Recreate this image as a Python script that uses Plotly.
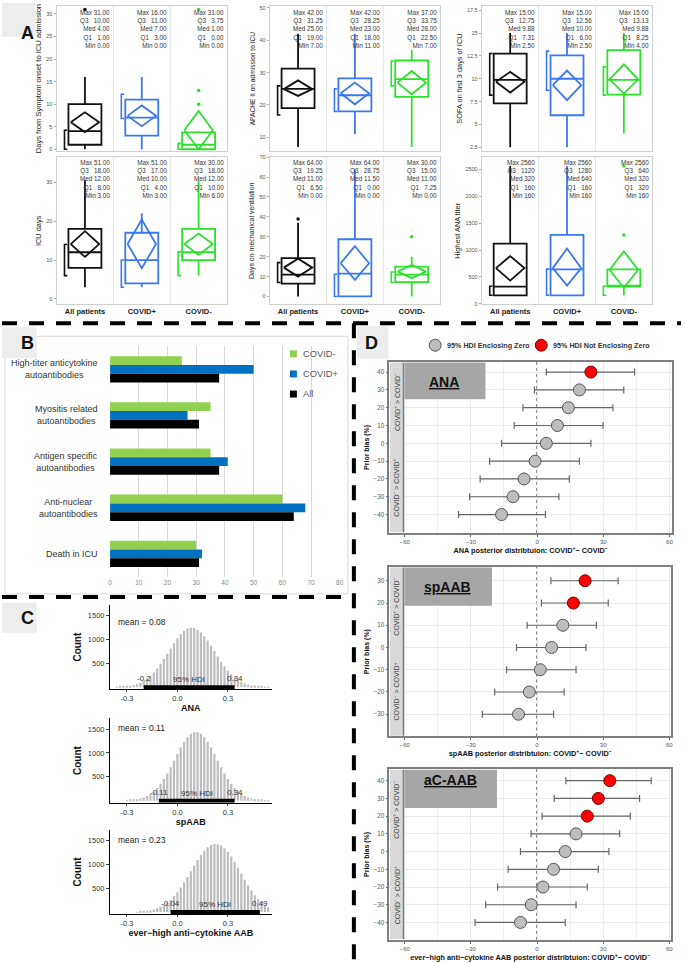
import plotly.graph_objects as go

W, H = 685, 963
FONT = "Liberation Sans"

# ---------------- Panel A data ----------------
groups = ["All patients", "COVID+", "COVID-"]
group_colors = ["#111111", "#3A78F2", "#2CE02C"]

a1_ytitle = "Days from Symptom onset to ICU admission"
a1_q1 = [1, 3, 0]
a1_med = [4, 7, 1]
a1_q3 = [10, 11, 3.75]
a1_wlo = [0, 0, 0]
a1_whi = [16, 16, 4]
a1_mean = [6.0, 7.4, 4.2]
a1_ci_lo = [3.8, 5.1, 0.0]
a1_ci_hi = [8.2, 9.7, 8.5]
a1_sh_lo = [0, 6.8, 0]
a1_sh_hi = [4.2, 12.2, 1.3]
a1_out_g = [0, 2, 2, 2]
a1_out_v = [31, 10, 13, 31]
a1_s_max = ["31.00", "16.00", "31.00"]
a1_s_q3 = ["10.00", "11.00", "3.75"]
a1_s_med = ["4.00", "7.00", "1.00"]
a1_s_q1 = ["1.00", "3.00", "0.00"]
a1_s_min = ["0.00", "0.00", "0.00"]

a2_ytitle = "APACHE II on admission to ICU"
a2_q1 = [19, 18, 22.5]
a2_med = [25, 23, 28]
a2_q3 = [31.25, 28.25, 33.75]
a2_wlo = [7, 11, 7]
a2_whi = [42, 42, 37]
a2_mean = [24.9, 23.6, 26.9]
a2_ci_lo = [22.8, 20.2, 23.3]
a2_ci_hi = [27.6, 26.9, 30.5]
a2_sh_lo = [16.9, 18, 25.9]
a2_sh_hi = [25.9, 25, 33.6]
a2_out_g = []
a2_out_v = []
a2_s_max = ["42.00", "42.00", "37.00"]
a2_s_q3 = ["31.25", "28.25", "33.75"]
a2_s_med = ["25.00", "23.00", "28.00"]
a2_s_q1 = ["19.00", "18.00", "22.50"]
a2_s_min = ["7.00", "11.00", "7.00"]

a3_ytitle = "SOFA on first 3 days of ICU"
a3_q1 = [7.31, 6, 8.25]
a3_med = [9.88, 10, 9.88]
a3_q3 = [12.75, 12.56, 13.13]
a3_wlo = [2.5, 2.5, 4]
a3_whi = [15, 15, 15]
a3_mean = [9.66, 9.29, 9.94]
a3_ci_lo = [8.49, 7.65, 8.38]
a3_ci_hi = [10.75, 10.9, 11.57]
a3_sh_lo = [8.2, 8.74, 8.2]
a3_sh_hi = [12.77, 13.03, 11.3]
a3_out_g = []
a3_out_v = []
a3_s_max = ["15.00", "15.00", "15.00"]
a3_s_q3 = ["12.75", "12.56", "13.13"]
a3_s_med = ["9.88", "10.00", "9.88"]
a3_s_q1 = ["7.31", "6.00", "8.25"]
a3_s_min = ["2.50", "2.50", "4.00"]

a4_ytitle = "ICU days"
a4_q1 = [8, 4, 10]
a4_med = [12, 10, 12]
a4_q3 = [18, 17, 18]
a4_wlo = [3, 3, 6]
a4_whi = [30.5, 22, 30.5]
a4_mean = [14.1, 14.1, 14.1]
a4_ci_lo = [10.8, 7.9, 11.3]
a4_ci_hi = [17.4, 20.4, 16.8]
a4_sh_lo = [6, 3, 6]
a4_sh_hi = [14, 10, 12.1]
a4_out_g = []
a4_out_v = []
a4_s_max = ["51.00", "51.00", "30.00"]
a4_s_q3 = ["18.00", "17.00", "18.00"]
a4_s_med = ["12.00", "10.00", "12.00"]
a4_s_q1 = ["8.00", "4.00", "10.00"]
a4_s_min = ["3.00", "3.00", "6.00"]

a5_ytitle = "Days on mechanical ventilation"
a5_q1 = [6.5, 0, 7.25]
a5_med = [11, 11.5, 11]
a5_q3 = [19.25, 28.75, 15]
a5_wlo = [0, 0, 0]
a5_whi = [37, 64, 20]
a5_mean = [14.5, 16.7, 12.5]
a5_ci_lo = [10, 8.4, 9.2]
a5_ci_hi = [19, 25.3, 15.8]
a5_sh_lo = [7, 0, 7]
a5_sh_hi = [17, 11.2, 12.3]
a5_out_g = [0, 2]
a5_out_v = [39, 30]
a5_s_max = ["64.00", "64.00", "30.00"]
a5_s_q3 = ["19.25", "28.75", "15.00"]
a5_s_med = ["11.00", "11.50", "11.00"]
a5_s_q1 = ["6.50", "0.00", "7.25"]
a5_s_min = ["0.00", "0.00", "0.00"]

a6_ytitle = "Highest ANA titer"
a6_q1 = [160, 160, 320]
a6_med = [320, 640, 320]
a6_q3 = [1120, 1280, 640]
a6_wlo = [160, 160, 160]
a6_whi = [2560, 2560, 640]
a6_mean = [664, 664, 633]
a6_ci_lo = [433, 342, 300]
a6_ci_hi = [887, 1027, 978]
a6_sh_lo = [160, 160, 160]
a6_sh_hi = [329, 645, 329]
a6_out_g = [2, 2]
a6_out_v = [1280, 2560]
a6_s_max = ["2560", "2560", "2560"]
a6_s_q3 = ["1120", "1280", "640"]
a6_s_med = ["320", "640", "320"]
a6_s_q1 = ["160", "160", "320"]
a6_s_min = ["160", "160", "160"]

# ---------------- Panel B data ----------------
b_categories = ["High-titer anticytokine<br>autoantibodies", "Myositis related<br>autoantibodies",
                "Antigen specific<br>autoantibodies", "Anti-nuclear<br>autoantibodies", "Death in ICU"]
b_series = ["COVID-", "COVID+", "All"]
b_covid_neg = [25, 35, 35, 60, 30]
b_covid_pos = [50, 27, 41, 68, 32]
b_all = [38, 31, 38, 64, 31]
b_colors = ["#92D050", "#0070C0", "#000000"]
b_ticks = [0, 10, 20, 30, 40, 50, 60, 70, 80]

# ---------------- Panel C data (posterior histograms, bin width 0.02) ----------------
c_bins = [-0.36, -0.34, -0.32, -0.30, -0.28, -0.26, -0.24, -0.22, -0.20, -0.18, -0.16, -0.14, -0.12,
          -0.10, -0.08, -0.06, -0.04, -0.02, 0.00, 0.02, 0.04, 0.06, 0.08, 0.10, 0.12, 0.14, 0.16,
          0.18, 0.20, 0.22, 0.24, 0.26, 0.28, 0.30, 0.32, 0.34, 0.36, 0.38, 0.40, 0.42, 0.44, 0.46,
          0.48, 0.50, 0.52, 0.54]
c1_counts = [5, 9, 14, 22, 33, 47, 69, 97, 135, 183, 243, 311, 394, 489, 593, 704, 814, 924, 1025,
             1114, 1183, 1229, 1249, 1242, 1208, 1150, 1070, 978, 870, 759, 646, 537, 443, 353, 275,
             210, 156, 114, 83, 58, 39, 26, 17, 11, 7, 4]
c2_counts = [0, 0, 0, 7, 11, 18, 29, 44, 66, 98, 140, 195, 265, 351, 454, 572, 701, 838, 978, 1112,
             1231, 1329, 1400, 1436, 1436, 1400, 1329, 1231, 1112, 978, 838, 701, 572, 454, 351, 265,
             195, 140, 98, 66, 44, 29, 18, 11, 7, 4]
c3_counts = [0, 0, 0, 0, 0, 0, 5, 10, 18, 27, 40, 57, 80, 110, 150, 199, 260, 333, 418, 515, 622,
             738, 858, 978, 1094, 1199, 1288, 1357, 1404, 1428, 1424, 1394, 1340, 1262, 1165, 1052,
             930, 804, 680, 561, 452, 354, 270, 200, 145, 102]
c_titles = ["ANA", "spAAB", "ever\u2212high anti\u2212cytokine AAB"]
c_means = ["0.08", "0.11", "0.23"]
c_hdi_lo = [-0.2, -0.11, -0.04]
c_hdi_hi = [0.34, 0.34, 0.49]

# ---------------- Panel D data ----------------
d_titles = ["ANA", "spAAB", "aC-AAB"]
d_xtitles = ["ANA posterior distribtuion: COVID<sup>+</sup>\u2212 COVID<sup>\u2212</sup>",
             "spAAB posterior distribtuion: COVID<sup>+</sup>\u2212 COVID<sup>\u2212</sup>",
             "ever\u2212high anti\u2212cytokine AAB posterior distribtuion: COVID<sup>+</sup>\u2212 COVID<sup>\u2212</sup>"]
d_legend = ["95% HDI Enclosing Zero", "95% HDI Not Enclosing Zero"]
d1_bias = [40, 30, 20, 10, 0, -10, -20, -30, -40]
d1_mean = [24.4, 19.2, 14.2, 9.2, 4.2, -0.9, -5.9, -10.9, -16.1]
d1_lo = [4.2, -1.2, -6.4, -10.4, -16.1, -21.5, -25.8, -30.6, -35.6]
d1_hi = [44.2, 39.3, 34.4, 29.9, 24.4, 19.2, 14.6, 9.9, 3.8]
d2_bias = [30, 20, 10, 0, -10, -20, -30]
d2_mean = [21.8, 16.5, 11.7, 6.6, 1.5, -3.5, -8.4]
d2_lo = [6.3, 2.0, -4.5, -9.3, -13.8, -19.2, -24.8]
d2_hi = [36.8, 32.3, 26.9, 22.2, 17.7, 12.3, 7.5]
d3_bias = [40, 30, 20, 10, 0, -10, -20, -30, -40]
d3_mean = [33.0, 27.8, 22.8, 17.7, 12.8, 7.5, 2.7, -2.6, -7.5]
d3_lo = [13.1, 7.8, 2.3, -2.7, -7.5, -13.1, -17.9, -23.3, -28.1]
d3_hi = [51.8, 46.5, 42.3, 37.5, 32.6, 27.8, 22.8, 17.7, 12.8]
d_colors = ["#BEBEBE", "#FF0000"]
d_edge = ["#555555", "#7A0000"]

# ================= figure building =================
fig = go.Figure()
layout = dict(width=W, height=H, margin=dict(l=0, r=0, t=0, b=0), paper_bgcolor="white",
              plot_bgcolor="white", font=dict(family=FONT, color="#222222"), barmode="group",
              bargap=0.43, bargroupgap=0, boxmode="overlay", showlegend=False)
annotations = []
shapes = []


def ax_names(n):
    s = "" if n == 1 else str(n)
    return "xaxis" + s, "yaxis" + s, "x" + s, "y" + s


def place(n, xpx, ypx, xopts, yopts):
    xk, yk, xa, ya = ax_names(n)
    layout[xk] = dict(domain=[xpx[0] / W, xpx[1] / W], anchor=ya, **xopts)
    layout[yk] = dict(domain=[1 - ypx[1] / H, 1 - ypx[0] / H], anchor=xa, **yopts)
    return xa, ya


def px_ann(text, x, y, size, **kw):
    d = dict(text=text, x=x / W, y=1 - y / H, xref="paper", yref="paper", showarrow=False,
             font=dict(size=size, color=kw.pop("color", "#222222"), family=FONT))
    d.update(kw)
    annotations.append(d)


def px_rect(x0, y0, x1, y1, fill, line=None, lw=0, layer="above", kind="rect"):
    shapes.append(dict(type=kind, xref="paper", yref="paper", x0=x0 / W, x1=x1 / W,
                       y0=1 - y1 / H, y1=1 - y0 / H, fillcolor=fill,
                       line=dict(width=lw, color=line or fill), layer=layer))


# ---------------- Panel A ----------------
A_panels = [
    dict(t=a1_ytitle, q1=a1_q1, med=a1_med, q3=a1_q3, wlo=a1_wlo, whi=a1_whi, mean=a1_mean, clo=a1_ci_lo,
         chi=a1_ci_hi, slo=a1_sh_lo, shi=a1_sh_hi, og=a1_out_g, ov=a1_out_v,
         s=[a1_s_max, a1_s_q3, a1_s_med, a1_s_q1, a1_s_min]),
    dict(t=a2_ytitle, q1=a2_q1, med=a2_med, q3=a2_q3, wlo=a2_wlo, whi=a2_whi, mean=a2_mean, clo=a2_ci_lo,
         chi=a2_ci_hi, slo=a2_sh_lo, shi=a2_sh_hi, og=a2_out_g, ov=a2_out_v,
         s=[a2_s_max, a2_s_q3, a2_s_med, a2_s_q1, a2_s_min]),
    dict(t=a3_ytitle, q1=a3_q1, med=a3_med, q3=a3_q3, wlo=a3_wlo, whi=a3_whi, mean=a3_mean, clo=a3_ci_lo,
         chi=a3_ci_hi, slo=a3_sh_lo, shi=a3_sh_hi, og=a3_out_g, ov=a3_out_v,
         s=[a3_s_max, a3_s_q3, a3_s_med, a3_s_q1, a3_s_min]),
    dict(t=a4_ytitle, q1=a4_q1, med=a4_med, q3=a4_q3, wlo=a4_wlo, whi=a4_whi, mean=a4_mean, clo=a4_ci_lo,
         chi=a4_ci_hi, slo=a4_sh_lo, shi=a4_sh_hi, og=a4_out_g, ov=a4_out_v,
         s=[a4_s_max, a4_s_q3, a4_s_med, a4_s_q1, a4_s_min]),
    dict(t=a5_ytitle, q1=a5_q1, med=a5_med, q3=a5_q3, wlo=a5_wlo, whi=a5_whi, mean=a5_mean, clo=a5_ci_lo,
         chi=a5_ci_hi, slo=a5_sh_lo, shi=a5_sh_hi, og=a5_out_g, ov=a5_out_v,
         s=[a5_s_max, a5_s_q3, a5_s_med, a5_s_q1, a5_s_min]),
    dict(t=a6_ytitle, q1=a6_q1, med=a6_med, q3=a6_q3, wlo=a6_wlo, whi=a6_whi, mean=a6_mean, clo=a6_ci_lo,
         chi=a6_ci_hi, slo=a6_sh_lo, shi=a6_sh_hi, og=a6_out_g, ov=a6_out_v,
         s=[a6_s_max, a6_s_q3, a6_s_med, a6_s_q1, a6_s_min]),
]
A_cols = [(55, 227), (270, 442), (484, 656)]
A_rows = [(3, 149), (155, 303)]
A_yr = [[-0.44, 31.76], [5.7, 50.6], [2.06, 17.97], [-1.4, 36.4], [-4, 70], [-10, 2724]]
A_dt = [5, 10, 2.5, 10, 10, 500]
A_tsize = [7.6, 6.6, 7.4, 7.4, 7.0, 7.4]
stat_names = ["Max", "Q3\u00a0\u00a0", "Med", "Q1\u00a0\u00a0", "Min"]

for k, p in enumerate(A_panels):
    row, col = divmod(k, 3)
    xa, ya = place(
        k + 1, A_cols[col], A_rows[row],
        dict(range=[-0.5, 2.5], tickvals=[0, 1, 2],
             ticktext=["<b>%s</b>" % g for g in groups], showticklabels=(row == 1),
             tickfont=dict(size=7.5, color="#222"), showgrid=False, zeroline=False, showline=True,
             mirror=True, linecolor="#D0D0D0", linewidth=1, ticks=""),
        dict(range=A_yr[k], dtick=A_dt[k], showgrid=False, zeroline=False, showline=True, mirror=True,
             linecolor="#D0D0D0", linewidth=1, ticks="outside", ticklen=2, tickcolor="#AAAAAA",
             tickfont=dict(size=5.5, color="#555"),
             title=dict(text=p["t"], font=dict(size=A_tsize[k], color="#222"), standoff=3)))
    for sep in (0.5, 1.5):
        shapes.append(dict(type="line", xref=xa, yref=ya + " domain", x0=sep, x1=sep, y0=0, y1=1,
                           line=dict(color="#E3E3E3", width=1), layer="below"))
    for g in range(3):
        c = group_colors[g]
        fig.add_trace(go.Box(x=[g], q1=[p["q1"][g]], median=[p["med"][g]], q3=[p["q3"][g]],
                             lowerfence=[p["wlo"][g]], upperfence=[p["whi"][g]], width=0.58,
                             whiskerwidth=0, boxpoints=False, fillcolor="rgba(0,0,0,0)",
                             line=dict(color=c, width=1.8), xaxis=xa, yaxis=ya, showlegend=False,
                             hoverinfo="skip"))
        dw = 0.25
        fig.add_trace(go.Scatter(x=[g - dw, g, g + dw, g, g - dw],
                                 y=[p["mean"][g], p["chi"][g], p["mean"][g], p["clo"][g], p["mean"][g]],
                                 mode="lines", line=dict(color=c, width=1.8), xaxis=xa, yaxis=ya,
                                 showlegend=False, hoverinfo="skip"))
        bx = g - 0.36
        fig.add_trace(go.Scatter(x=[bx + 0.05, bx, bx, bx + 0.05],
                                 y=[p["shi"][g], p["shi"][g], p["slo"][g], p["slo"][g]],
                                 mode="lines", line=dict(color=c, width=1.6), xaxis=xa, yaxis=ya,
                                 showlegend=False, hoverinfo="skip"))
        txt = "<br>".join("%s %s" % (stat_names[i], p["s"][i][g]) for i in range(5))
        top_px = 5.5 if row == 0 else 156.0
        y_dom = 1 - (top_px - A_rows[row][0]) / (A_rows[row][1] - A_rows[row][0])
        annotations.append(dict(text=txt, x=g + 0.46, y=y_dom, xref=xa, yref=ya + " domain",
                                xanchor="right", yanchor="top", align="right", showarrow=False,
                                borderpad=0, font=dict(size=6.3, color="#333", family=FONT)))
    if p["og"]:
        fig.add_trace(go.Scatter(x=p["og"], y=p["ov"], mode="markers",
                                 marker=dict(size=3.5, color=[group_colors[g] for g in p["og"]]),
                                 xaxis=xa, yaxis=ya, showlegend=False, hoverinfo="skip"))

# ---------------- Panel B ----------------
xa, ya = place(7, (109, 340.7), (345, 577),
               dict(range=[0, 80], tickvals=b_ticks, ticksuffix="%", showgrid=True, gridcolor="#D9D9D9",
                    zeroline=False, tickfont=dict(size=6.5, color="#888"), ticks=""),
               dict(categoryorder="array", categoryarray=b_categories, autorange="reversed",
                    showticklabels=False, showgrid=False, zeroline=False, ticks=""))
for name, vals, colr in zip(b_series, [b_covid_neg, b_covid_pos, b_all], b_colors):
    fig.add_trace(go.Bar(y=b_categories, x=vals, orientation="h", name=name, marker_color=colr,
                         marker_line_width=0, xaxis=xa, yaxis=ya, hoverinfo="skip"))
for cat in b_categories:
    annotations.append(dict(text=cat, x=99 / W, y=cat, xref="paper", yref=ya, xanchor="right",
                            align="center", showarrow=False,
                            font=dict(size=9, color="#333", family=FONT)))
px_rect(279, 344, 347, 402, "white", layer="between")
for i, (name, colr) in enumerate(zip(b_series, b_colors)):
    yc = 352.7 + 20.2 * i
    px_rect(290.5, yc - 3.5, 297.5, yc + 3.5, colr)
    px_ann(name, 301.5, yc, 9.3, xanchor="left", color="#595959")

# ---------------- Panel C ----------------
C_rows = [(605, 690), (719, 804), (831, 916)]
for i, counts in enumerate([c1_counts, c2_counts, c3_counts]):
    xa, ya = place(8 + i, (109, 272), C_rows[i],
                   dict(range=[-0.4, 0.56], tickvals=[-0.3, 0, 0.3], ticktext=["-0.3", "0.0", "0.3"],
                        showgrid=False, zeroline=False, showline=True, linecolor="#000", linewidth=1,
                        ticks="outside", ticklen=2, tickfont=dict(size=7.5, color="#333"),
                        title=dict(text="<b>%s</b>" % c_titles[i], font=dict(size=9, color="#111"),
                                   standoff=1)),
                   dict(range=[-45, 1727], tickvals=[500, 1000, 1500], showgrid=False, zeroline=False,
                        showline=True, linecolor="#000", linewidth=1, ticks="outside", ticklen=3,
                        tickfont=dict(size=7.5, color="#333"),
                        title=dict(text="<b>Count</b>", font=dict(size=10, color="#111"), standoff=4)))
    fig.add_trace(go.Bar(x=c_bins, y=counts, width=0.013, marker_color="#BDBDBD", marker_line_width=0,
                         xaxis=xa, yaxis=ya, showlegend=False, hoverinfo="skip"))
    fig.add_trace(go.Scatter(x=[c_hdi_lo[i], c_hdi_hi[i]], y=[0, 0], mode="lines",
                             line=dict(color="#000", width=4), xaxis=xa, yaxis=ya, showlegend=False,
                             hoverinfo="skip"))
    top = C_rows[i][0]
    px_ann("mean = " + c_means[i], 115, top + 17, 8.5, xanchor="left")
    annotations.append(dict(text="95% HDI", x=(c_hdi_lo[i] + c_hdi_hi[i]) / 2, y=0.0, xref=xa,
                            yref=ya + " domain", yanchor="bottom", yshift=3, showarrow=False,
                            font=dict(size=8, color="#333", family=FONT)))
    for v in (c_hdi_lo[i], c_hdi_hi[i]):
        annotations.append(dict(text=("%g" % v), x=v, y=0.0, xref=xa, yref=ya + " domain",
                                yanchor="bottom", yshift=4, showarrow=False,
                                font=dict(size=8, color="#333", family=FONT)))

# ---------------- Panel D ----------------
D_rows = [(360.7, 532.7), (566.7, 737.3), (770, 941.7)]
D_xr = [[-67, 61.2], [-67, 60.8], [-67, 60.8]]
D_yr = [[-50.3, 45.75], [-40, 36.3], [-49.8, 46.6]]
D_label_box = [(405, 487.7, 398.3), (405, 494.3, 606), (405, 499.3, 809.3)]
D_data = [(d1_bias, d1_mean, d1_lo, d1_hi), (d2_bias, d2_mean, d2_lo, d2_hi),
          (d3_bias, d3_mean, d3_lo, d3_hi)]
for i, (bias, mean, lo, hi) in enumerate(D_data):
    xr = D_xr[i]
    xa, ya = place(11 + i, (390.7, 676 if i == 0 else 675), D_rows[i],
                   dict(range=xr, tickvals=[-60, -30, 0, 30, 60], showgrid=True, gridcolor="#EBEBEB",
                        minor=dict(dtick=15, tick0=0, showgrid=True, gridcolor="#F0F0F0"),
                        zeroline=False, showline=True, mirror=True, linecolor="#808080", linewidth=1.5,
                        ticks="outside", ticklen=2, tickcolor="#666",
                        tickfont=dict(size=6, color="#555"),
                        title=dict(text="<b>%s</b>" % d_xtitles[i], font=dict(size=7.3, color="#111"),
                                   standoff=2)),
                   dict(range=D_yr[i], tickvals=bias, showgrid=True, gridcolor="#EBEBEB", zeroline=False,
                        showline=True, mirror=True, linecolor="#808080", linewidth=1.5, ticks="outside",
                        ticklen=2, tickcolor="#666", tickfont=dict(size=6.3, color="#555"),
                        title=dict(text="<b>Prior bias (%)</b>", font=dict(size=7, color="#111"),
                                   standoff=3)))
    shapes.append(dict(type="line", xref=xa, yref=ya + " domain", x0=0, x1=0, y0=0, y1=1,
                       line=dict(color="#000", width=1, dash="dot"), layer="below"))
    top, bot = D_rows[i]
    px_rect(391.5, top + 0.8, 405, bot - 0.8, "#D9D9D9")
    shapes.append(dict(type="line", xref="paper", yref="paper", x0=405 / W, x1=405 / W,
                       y0=1 - (bot - 0.8) / H, y1=1 - (top + 0.8) / H,
                       line=dict(color="#7F7F7F", width=1.5), layer="above"))
    lx0, lx1, ly1 = D_label_box[i]
    px_rect(406, top + 0.8, lx1, ly1, "#A6A6A6")
    px_ann("<b><u>%s</u></b>" % d_titles[i], (lx0 + lx1) / 2, (top + ly1) / 2 + 1, 14, color="#111")
    annotations.append(dict(text="COVID<sup>+</sup> > COVID<sup>\u2212</sup>", x=398 / W,
                            y=D_yr[i][1] / 2, xref="paper", yref=ya, textangle=-90, showarrow=False,
                            font=dict(size=7, color="#444", family=FONT)))
    annotations.append(dict(text="COVID<sup>\u2212</sup> > COVID<sup>+</sup>", x=398 / W,
                            y=D_yr[i][0] / 2, xref="paper", yref=ya, textangle=-90, showarrow=False,
                            font=dict(size=7, color="#444", family=FONT)))
    for kind in (0, 1):
        idx = [j for j in range(len(bias)) if int(lo[j] > 0 or hi[j] < 0) == kind]
        if not idx:
            continue
        fig.add_trace(go.Scatter(
            x=[mean[j] for j in idx], y=[bias[j] for j in idx], mode="markers",
            error_x=dict(type="data", symmetric=False, array=[hi[j] - mean[j] for j in idx],
                         arrayminus=[mean[j] - lo[j] for j in idx], color="#666", thickness=1.2,
                         width=3.5),
            marker=dict(size=12, color=d_colors[kind], line=dict(color=d_edge[kind], width=1)),
            name=d_legend[kind], showlegend=False, xaxis=xa, yaxis=ya, hoverinfo="skip"))
for kind, (cx, tx) in enumerate([(437, 447), (544, 554)]):
    px_rect(cx - 6, 338, cx + 6, 350, d_colors[kind], line=d_edge[kind], lw=1, kind="circle")
    px_ann("<b>%s</b>" % d_legend[kind], tx, 344, 7.2, xanchor="left", color="#333")

# ---------------- panel letters, frames, separators ----------------
px_rect(0, 0, 34, 34, "#EDEDED")
px_ann("<b>A</b>", 17, 18, 18, color="#111")
px_rect(3, 335, 349, 594, "rgba(0,0,0,0)", line="#D9D9D9", lw=1)
px_rect(0, 326, 35, 357, "#EDEDED")
px_ann("<b>B</b>", 17, 342, 18, color="#111")
px_rect(0, 603, 35, 633, "#EDEDED")
px_ann("<b>C</b>", 17, 618, 18, color="#111")
px_rect(358, 325, 390, 358, "#EDEDED")
px_ann("<b>D</b>", 373, 342, 18, color="#111")

for (x0, y0, x1, y1) in [(0, 322, 685, 322), (0, 597, 355, 597), (355, 322, 355, 963)]:
    shapes.append(dict(type="line", xref="paper", yref="paper", x0=x0 / W, x1=x1 / W,
                       y0=1 - y0 / H, y1=1 - y1 / H,
                       line=dict(color="#000", width=4, dash="15px,12px"), layer="above"))

layout["annotations"] = annotations
layout["shapes"] = shapes
fig.update_layout(**layout)
fig.write_html("out.html", config={"displayModeBar": False},
               post_script="document.body.style.margin='0';")
